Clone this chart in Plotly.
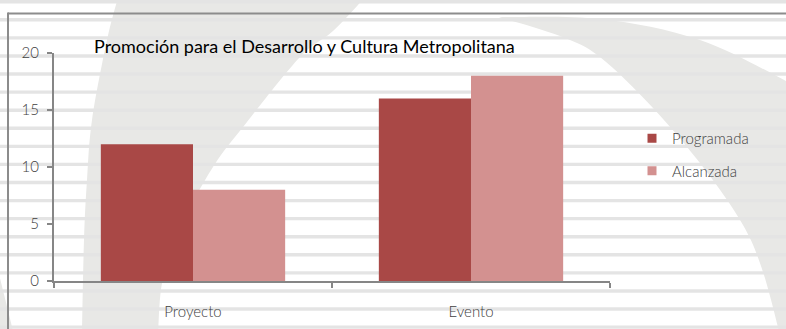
import plotly.graph_objects as go

# ---- data ----
categories = ["Proyecto", "Evento"]
programada = [12, 16]
alcanzada = [8, 18]
series_names = ["Programada", "Alcanzada"]
series_colors = ["#A94846", "#D39190"]
y_tick_values = [0, 5, 10, 15, 20]
title_text = "Promoción para el Desarrollo y Cultura Metropolitana"

# ---- geometry helpers (pixel -> paper) ----
W, H = 786, 329
ML, MR, MT, MB = 54, 176, 53, 48
PW, PH = W - ML - MR, H - MT - MB


def px(x):
    return (x - ML) / PW


def py(y):
    return (H - MB - y) / PH


def smooth(points):
    # Catmull-Rom through pixel points -> cubic bezier path in paper coords
    n = len(points)
    d = "M {:.5f},{:.5f}".format(px(points[0][0]), py(points[0][1]))
    for i in range(n - 1):
        p0 = points[i - 1] if i > 0 else points[i]
        p1 = points[i]
        p2 = points[i + 1]
        p3 = points[i + 2] if i + 2 < n else points[i + 1]
        c1 = (p1[0] + (p2[0] - p0[0]) / 6, p1[1] + (p2[1] - p0[1]) / 6)
        c2 = (p2[0] - (p3[0] - p1[0]) / 6, p2[1] - (p3[1] - p1[1]) / 6)
        d += " C {:.5f},{:.5f} {:.5f},{:.5f} {:.5f},{:.5f}".format(
            px(c1[0]), py(c1[1]), px(c2[0]), py(c2[1]), px(p2[0]), py(p2[1]))
    return d


shapes = []
wm = "#E8E8E6"

# left crescent
left_edge = [(119, -6), (107, 40), (92, 120), (87, 180), (84, 240), (82, 335)]
right_edge = [(158, 335), (162, 283), (177, 233), (213, 167), (247, 122), (300, 57), (333, 31), (368, -6)]
shapes.append(dict(type="path", xref="paper", yref="paper", layer="below",
                   path=smooth(left_edge) + " L" + smooth(right_edge)[1:] + " Z",
                   fillcolor=wm, line=dict(width=0)))
# bottom-left sliver
shapes.append(dict(type="path", xref="paper", yref="paper", layer="below",
                   path="M {},{} L {},{} L {},{} Z".format(px(-2), py(270), px(14), py(335), px(-2), py(335)),
                   fillcolor=wm, line=dict(width=0)))
# right crescent
top_edge = [(499, 17), (600, 19), (700, 40), (792, 84)]
inner_edge = [(780, 335), (763, 272), (743, 225), (703, 167), (653, 108), (600, 57), (560, 36), (499, 17)]
right_path = smooth(top_edge) + " L {:.5f},{:.5f}".format(px(792), py(335)) + " L" + smooth(inner_edge)[1:] + " Z"
shapes.append(dict(type="path", xref="paper", yref="paper", layer="below",
                   path=right_path, fillcolor=wm, line=dict(width=0)))

# horizontal background stripes
k = 0
while True:
    c = 1.7 + 18.08 * k
    if c > H + 3:
        break
    shapes.append(dict(type="rect", xref="paper", yref="paper", layer="below",
                       x0=px(-2), x1=px(W + 2), y0=py(c - 1.7), y1=py(c + 1.7),
                       fillcolor="#E4E4E4", line=dict(width=0)))
    k += 1

# chart frame
frame = "#8C8C8C"
shapes.append(dict(type="line", xref="paper", yref="paper", layer="below",
                   x0=px(8), x1=px(W + 5), y0=py(13.5), y1=py(13.5), line=dict(color=frame, width=2)))
shapes.append(dict(type="line", xref="paper", yref="paper", layer="below",
                   x0=px(8), x1=px(8), y0=py(12.5), y1=py(H + 5), line=dict(color=frame, width=2)))

fig = go.Figure()
for name, vals, col in zip(series_names, [programada, alcanzada], series_colors):
    fig.add_trace(go.Bar(x=categories, y=vals, name=name, marker=dict(color=col, line=dict(width=0)),
                         showlegend=False))
for name, col in zip(series_names, series_colors):
    fig.add_trace(go.Scatter(x=[None], y=[None], mode="markers", name=name, legendgroup=name,
                             marker=dict(symbol="square", size=9, color=col, line=dict(width=0))))

axis_col = "#868686"
font_fam = "Lato, 'Open Sans', sans-serif"
fig.update_layout(
    width=W, height=H,
    margin=dict(l=ML, r=MR, t=MT, b=MB, pad=0, autoexpand=False),
    paper_bgcolor="white", plot_bgcolor="rgba(0,0,0,0)",
    barmode="group", bargap=0.337, bargroupgap=0,
    shapes=shapes,
    font=dict(family=font_fam, color="#404040", size=15, weight=300),
    showlegend=True,
    legend=dict(x=px(632), xanchor="left", y=py(122), yanchor="top",
                bgcolor="rgba(0,0,0,0)", font=dict(size=15, color="#404040", weight=300),
                tracegroupgap=10, itemwidth=30),
    annotations=[dict(text=title_text, xref="paper", yref="paper", x=px(92), y=py(46),
                      xanchor="left", yanchor="middle", showarrow=False,
                      font=dict(family=font_fam, size=18, color="#000000", weight=400))],
)
fig.update_xaxes(showline=True, linecolor=axis_col, linewidth=2, ticks="outside", tickson="boundaries",
                 ticklen=5, tickwidth=2, tickcolor=axis_col, showgrid=False, zeroline=False,
                 tickfont=dict(size=15, color="#404040", weight=300), ticklabelstandoff=16,
                 fixedrange=True, automargin=False)
fig.update_yaxes(range=[0, 20], tickvals=y_tick_values, showline=True, linecolor=axis_col, linewidth=2,
                 ticks="outside", ticklen=5, tickwidth=2, tickcolor=axis_col, showgrid=False,
                 zeroline=False, tickfont=dict(size=15, color="#404040", weight=300),
                 ticklabelstandoff=5, fixedrange=True, automargin=False)

fig.write_html("out.html", config={"displayModeBar": False},
               post_script="document.body.style.margin='0';document.body.style.overflow='hidden';")
